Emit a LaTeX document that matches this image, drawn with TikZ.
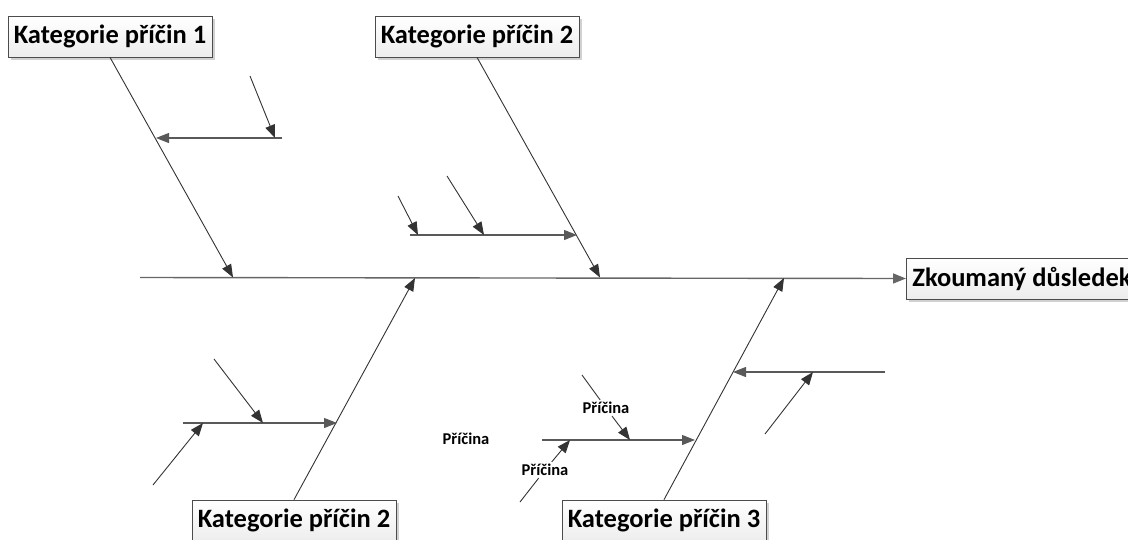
\documentclass[tikz,border=0pt]{standalone}
\usepackage{fontspec}
\setmainfont{Carlito}
\usetikzlibrary{arrows.meta,shadows}

\begin{document}
\begin{tikzpicture}[x=1pt,y=-1pt,
  catbox/.style={draw=black!70, line width=0.7pt, top color=white, bottom color=black!7,
    drop shadow={shadow xshift=3pt, shadow yshift=-3pt, fill=black!18, opacity=1},
    minimum width=204pt, minimum height=41pt, inner sep=0pt,
    font=\bfseries\fontsize{26.5}{30}\selectfont},
  effbox/.style={catbox, anchor=west, minimum width=0pt, inner xsep=6pt},
  causetext/.style={inner sep=2pt, font=\bfseries\fontsize{16.5}{19}\selectfont},
  tip/.style={-{Triangle[length=13pt,width=10pt]}},
  spine/.style={tip, draw=black!60, line width=1.4pt},
  bone/.style={tip, draw=black!80, line width=0.9pt},
  rib/.style={tip, draw=black!65, line width=1.1pt},
  twig/.style={tip, draw=black!80, line width=0.9pt},
  plain/.style={draw=black!80, line width=0.9pt}]

\useasboundingbox (0,0) rectangle (1128,539);

% category boxes and the effect box
\node[catbox] (c1) at (110,36.5) {Kategorie příčin 1};
\node[catbox] (c2) at (477,36.5) {Kategorie příčin 2};
\node[catbox] (c3) at (294,520.5) {Kategorie příčin 2};
\node[catbox] (c4) at (664,520.5) {Kategorie příčin 3};
\node[effbox] (eff) at (906,278.5) {Zkoumaný důsledek};

% main spine
\coordinate (sp0) at (140,277.5);
\draw[spine] (sp0) -- (eff.west);

% main bones meeting the spine
\coordinate (b1) at (233,277.5);
\coordinate (b2) at (600,277.5);
\coordinate (b3) at (415,278);
\coordinate (b4) at (784,278);
\draw[bone] (c1.south) -- (b1);
\draw[bone] (c2.south) -- (b2);
\draw[bone] (c3.north) -- (b3);
\draw[bone] (c4.north) -- (b4);

% bone 1: one cause with a sub-cause
\coordinate (r1s) at (282,138);
\coordinate (r1e) at (156,138);
\coordinate (t1s) at (250,76);
\coordinate (t1e) at (275,138);
\draw[rib] (r1s) -- (r1e);
\draw[twig] (t1s) -- (t1e);

% bone 2: one cause with two sub-causes
\coordinate (r2s) at (410,235);
\coordinate (r2e) at (577,235);
\coordinate (t2s) at (398,196);
\coordinate (t2e) at (418,235);
\coordinate (t3s) at (447,176);
\coordinate (t3e) at (484,235);
\draw[rib] (r2s) -- (r2e);
\draw[twig] (t2s) -- (t2e);
\draw[twig] (t3s) -- (t3e);

% bone 3: one cause with two sub-causes
\coordinate (r3s) at (183,423);
\coordinate (r3e) at (337,423);
\coordinate (t4s) at (214,359);
\coordinate (t4e) at (263,423);
\coordinate (t5s) at (153,485);
\coordinate (t5e) at (203,423);
\draw[rib] (r3s) -- (r3e);
\draw[twig] (t4s) -- (t4e);
\draw[twig] (t5s) -- (t5e);

% bone 4: two causes, the left one with labelled sub-causes
\coordinate (r4s) at (542,440);
\coordinate (r4e) at (695,440);
\coordinate (r5s) at (885,372);
\coordinate (r5e) at (733,372);
\draw[rib] (r4s) -- (r4e);
\draw[rib] (r5s) -- (r5e);

\node[causetext] (p1) at (606,408) {Příčina};
\coordinate (t6s) at (582,375);
\coordinate (t6e) at (630,440);
\draw[plain] (t6s) -- (p1);
\draw[twig] (p1) -- (t6e);

\node[causetext] (p2) at (545,470) {Příčina};
\coordinate (t7s) at (520,502);
\coordinate (t7e) at (570,440);
\draw[plain] (t7s) -- (p2);
\draw[twig] (p2) -- (t7e);

\coordinate (t8s) at (765,434);
\coordinate (t8e) at (813,372);
\draw[twig] (t8s) -- (t8e);

% free-standing cause label
\node[causetext] (p0) at (466,439) {Příčina};

\end{tikzpicture}
\end{document}
